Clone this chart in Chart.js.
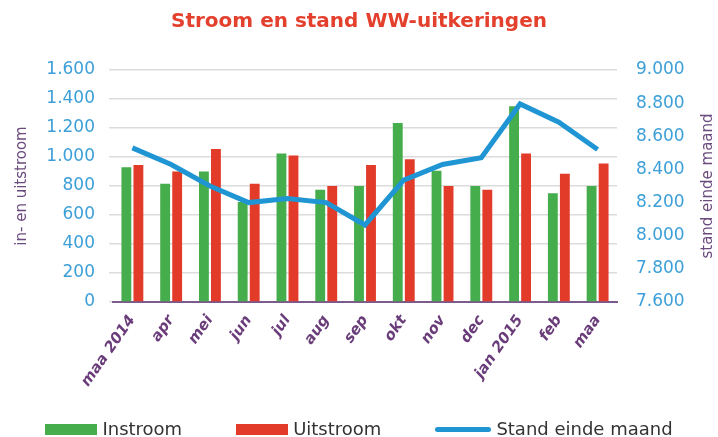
<!DOCTYPE html>
<html>
<head>
<meta charset="utf-8">
<script src="https://cdn.jsdelivr.net/npm/chart.js@4.4.1/dist/chart.umd.min.js"></script>
<style>
    body { margin: 0; background: #fff; }
    #wrap { position: relative; width: 718px; height: 437px; }
    #legend {
        position: absolute; left: 0; top: 419px; width: 718px;
        display: flex; justify-content: center; gap: 54px;
        font: 18px 'DejaVu Sans', sans-serif; color: #333; line-height: 20px;
    }
    .item { display: flex; align-items: center; gap: 5px; }
    .box { width: 52px; height: 11px; }
    .line { width: 56px; height: 5px; border-radius: 3px; }
</style>
</head>
<body>
<div id="wrap">
    <canvas id="chart" width="718" height="437"></canvas>
    <div id="legend"></div>
</div>
<script>
// Data
const months = ['maa 2014', 'apr', 'mei', 'jun', 'jul', 'aug', 'sep', 'okt', 'nov', 'dec', 'jan 2015', 'feb', 'maa'];
const instroom = [930, 815, 900, 690, 1025, 775, 800, 1235, 905, 800, 1350, 750, 800];
const uitstroom = [945, 900, 1055, 815, 1010, 800, 945, 985, 800, 775, 1025, 885, 955];
const standEindeMaand = [8530, 8430, 8300, 8200, 8225, 8200, 8065, 8335, 8430, 8470, 8795, 8685, 8520];

const green = '#45ad4b';
const red = '#e23b2a';
const blue = '#1f96d3';
const purple = '#6b4a7e';
const tickBlue = '#3c9fd8';

// thousands separator as a dot
function fmt(v) {
    return String(v).replace(/\B(?=(\d{3})+(?!\d))/g, '.');
}

// right axis title reads bottom to top, Chart.js would rotate it the other way
const rightTitle = {
    id: 'rightTitle',
    afterDraw(chart) {
        const ctx = chart.ctx;
        const area = chart.chartArea;
        ctx.save();
        ctx.translate(708, (area.top + area.bottom) / 2);
        ctx.rotate(-Math.PI / 2);
        ctx.font = '15px "DejaVu Sans"';
        ctx.fillStyle = purple;
        ctx.textAlign = 'center';
        ctx.textBaseline = 'middle';
        ctx.fillText('stand einde maand', 0, 0);
        ctx.restore();
    }
};

const ctx = document.getElementById('chart').getContext('2d');
const chart = new Chart(ctx, {
    type: 'bar',
    data: {
        labels: months,
        datasets: [{
            type: 'line',
            label: 'Stand einde maand',
            data: standEindeMaand,
            yAxisID: 'y1',
            borderColor: blue,
            backgroundColor: blue,
            borderWidth: 5,
            pointRadius: 0,
            tension: 0,
            order: 0,
        }, {
            label: 'Instroom',
            data: instroom,
            backgroundColor: green,
            yAxisID: 'y',
            order: 1,
        }, {
            label: 'Uitstroom',
            data: uitstroom,
            backgroundColor: red,
            yAxisID: 'y',
            order: 1,
        }],
    },
    options: {
        responsive: false,
        animation: false,
        datasets: {
            bar: { categoryPercentage: 0.62, barPercentage: 0.82 },
        },
        layout: { padding: { left: 0, right: 0, top: 0, bottom: 25 } },
        plugins: {
            legend: { display: false },
            tooltip: { enabled: false },
            title: {
                display: true,
                text: 'Stroom en stand WW-uitkeringen',
                color: '#e4402e',
                font: { family: 'DejaVu Sans', size: 20, weight: 'bold' },
                padding: { top: 10, bottom: 36 },
            },
        },
        scales: {
            x: {
                grid: { display: false },
                border: { display: true, color: '#7b5a8c', width: 2 },
                ticks: {
                    color: '#6a3d7a',
                    font: { family: 'DejaVu Sans', size: 15, weight: 'bold', style: 'italic' },
                    minRotation: 55,
                    maxRotation: 55,
                    padding: 2,
                },
                afterFit: (scale) => { scale.height = 110; },
            },
            y: {
                position: 'left',
                min: 0,
                max: 1600,
                ticks: {
                    stepSize: 200,
                    color: tickBlue,
                    font: { family: 'DejaVu Sans', size: 17 },
                    padding: 14,
                    callback: (v) => fmt(v),
                },
                grid: { color: '#dcdcdc', lineWidth: 1.5, tickLength: 4 },
                border: { display: false },
                title: {
                    display: true,
                    text: 'in- en uitstroom',
                    color: purple,
                    font: { family: 'DejaVu Sans', size: 15 },
                    padding: { top: 13, bottom: 0 },
                },
                afterFit: (scale) => { scale.width = 113; },
            },
            y1: {
                position: 'right',
                min: 7600,
                max: 9000,
                ticks: {
                    stepSize: 200,
                    color: tickBlue,
                    font: { family: 'DejaVu Sans', size: 17 },
                    padding: 19,
                    callback: (v) => fmt(v),
                },
                grid: { drawOnChartArea: false, drawTicks: false },
                border: { display: false },
                afterFit: (scale) => { scale.width = 101; },
            },
        },
    },
    plugins: [rightTitle],
});

// HTML legend in the order of the picture
const legend = document.getElementById('legend');
[chart.data.datasets[1], chart.data.datasets[2], chart.data.datasets[0]].forEach(ds => {
    const item = document.createElement('div');
    item.className = 'item';
    const mark = document.createElement('span');
    mark.className = ds.type === 'line' ? 'line' : 'box';
    mark.style.background = ds.backgroundColor;
    const text = document.createElement('span');
    text.textContent = ds.label;
    item.appendChild(mark);
    item.appendChild(text);
    legend.appendChild(item);
});
</script>
</body>
</html>
